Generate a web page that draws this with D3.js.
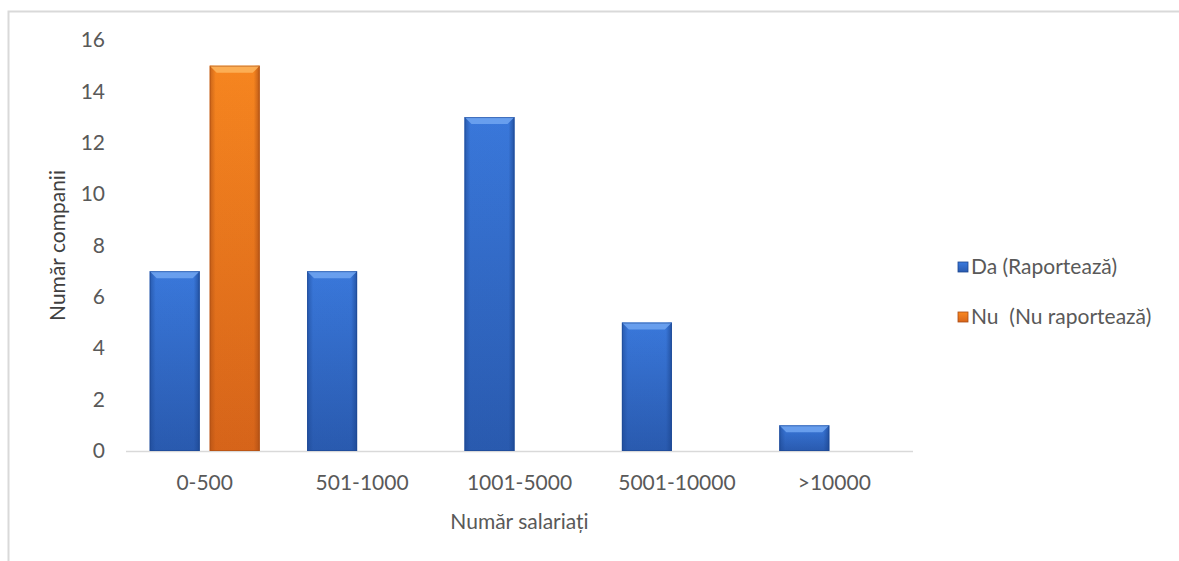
<!DOCTYPE html>
<html><head><meta charset="utf-8">
<script src="https://cdn.jsdelivr.net/npm/d3@7"></script>
<style>
html,body{margin:0;padding:0;background:#fff;}
svg{display:block;font-family:Lato,"Open Sans",sans-serif;}
</style></head>
<body>
<svg id="chart" width="1179" height="561"></svg>
<script>
const categories = ["0-500","501-1000","1001-5000","5001-10000",">10000"];
const seriesNames = ["Da (Raportează)","Nu  (Nu raportează)"];
const daValues = [7,7,13,5,1];
const nuValues = [15,0,0,0,0];
const yTicks = [0,2,4,6,8,10,12,14,16];
const yTitle = "Număr companii";
const xTitle = "Număr salariați";

const svg = d3.select("#chart");
const W = 1179, H = 561;
const plot = {left:126, right:913, top:40, bottom:451};
const FS = "21px";

// frame
svg.append("path").attr("d", `M8.5,${H} L8.5,11.5 L${W},11.5`)
  .attr("fill","none").attr("stroke","#d9d9d9").attr("stroke-width",2);

const x0 = d3.scaleBand().domain(categories).range([plot.left, plot.right]).paddingInner(0).paddingOuter(0);
const x1 = d3.scaleBand().domain(["da","nu"]).range([23.7, x0.bandwidth()-23.7]).paddingInner(1/6).paddingOuter(0);
const y = d3.scaleLinear().domain([0,16]).range([plot.bottom, plot.top]);

const defs = svg.append("defs");
const palettes = {
  da: {top:"#3b7ade", bot:"#2a5bb0", bevelTop:"#6ea3ef", edge:"#1c4690"},
  nu: {top:"#fa8820", bot:"#d8651a", bevelTop:"#fdb25a", edge:"#a94c14"}
};
Object.entries(palettes).forEach(([k,p])=>{
  const g = defs.append("linearGradient").attr("id","g-"+k).attr("x1",0).attr("y1",0).attr("x2",0).attr("y2",1);
  g.append("stop").attr("offset","0%").attr("stop-color",p.top);
  g.append("stop").attr("offset","100%").attr("stop-color",p.bot);
  const gs = defs.append("linearGradient").attr("id","gs-"+k).attr("x1",0).attr("y1",0).attr("x2",1).attr("y2",0);
  gs.append("stop").attr("offset","0%").attr("stop-color",p.edge).attr("stop-opacity",0.6);
  gs.append("stop").attr("offset","12%").attr("stop-color",p.edge).attr("stop-opacity",0.05);
  gs.append("stop").attr("offset","88%").attr("stop-color",p.edge).attr("stop-opacity",0.05);
  gs.append("stop").attr("offset","100%").attr("stop-color",p.edge).attr("stop-opacity",0.75);
});

// axis line
svg.append("line").attr("x1",plot.left).attr("x2",plot.right).attr("y1",y(0)+0.5).attr("y2",y(0)+0.5)
  .attr("stroke","#d9d9d9").attr("stroke-width",1.5);

// y axis
const yAxis = d3.axisLeft(y).tickValues(yTicks).tickSize(0).tickPadding(0);
const gy = svg.append("g").attr("transform","translate(105,0)").call(yAxis);
gy.select(".domain").remove();
gy.selectAll("text").attr("fill","#595959").style("font-size",FS).style("font-family","Lato,sans-serif");

// x axis
const xAxis = d3.axisBottom(x0).tickSize(0).tickPadding(0);
const gx = svg.append("g").attr("transform",`translate(0,${plot.bottom+24})`).call(xAxis);
gx.select(".domain").remove();
gx.selectAll("text").attr("fill","#595959").style("font-size",FS).style("font-family","Lato,sans-serif");

// bars
const rows = categories.map((c,i)=>({cat:c, vals:[{k:"da",v:daValues[i]},{k:"nu",v:nuValues[i]}]}));
const bev = 7;
const groups = svg.append("g").selectAll("g").data(rows).join("g")
  .attr("transform", d=>`translate(${x0(d.cat)},0)`);
const bars = groups.selectAll("g").data(d=>d.vals.filter(v=>v.v>0)).join("g");
bars.each(function(d){
  const g = d3.select(this);
  const p = palettes[d.k];
  const bx = x1(d.k), bw = x1.bandwidth(), by = y(d.v), bh = y(0)-y(d.v);
  g.append("rect").attr("x",bx).attr("y",by).attr("width",bw).attr("height",bh).attr("fill",`url(#g-${d.k})`);
  g.append("rect").attr("x",bx).attr("y",by).attr("width",bw).attr("height",bh).attr("fill",`url(#gs-${d.k})`);
  g.append("path").attr("d",`M${bx},${by} L${bx+bw},${by} L${bx+bw-bev},${by+bev} L${bx+bev},${by+bev} Z`)
    .attr("fill",p.bevelTop).attr("opacity",0.9);
  g.append("rect").attr("x",bx+0.5).attr("y",by+0.5).attr("width",bw-1).attr("height",bh-1)
    .attr("fill","none").attr("stroke",p.edge).attr("stroke-opacity",0.55).attr("stroke-width",1);
});

// axis titles
svg.append("text").attr("transform",`translate(65,${(plot.top+plot.bottom)/2}) rotate(-90)`)
  .attr("text-anchor","middle").attr("fill","#404040").style("font-size",FS).text(yTitle);
svg.append("text").attr("x",(plot.left+plot.right)/2).attr("y",529)
  .attr("text-anchor","middle").attr("fill","#595959").style("font-size",FS).text(xTitle);

// legend
const leg = svg.append("g").selectAll("g").data(seriesNames).join("g")
  .attr("transform",(d,i)=>`translate(958,${262+i*50})`);
leg.append("rect").attr("width",10).attr("height",10)
  .attr("fill",(d,i)=>i===0?"url(#g-da)":"url(#g-nu)")
  .attr("stroke",(d,i)=>i===0?palettes.da.edge:palettes.nu.edge).attr("stroke-width",0.8);
leg.append("text").attr("x",13).attr("y",12).attr("fill","#595959").style("font-size",FS).style("white-space","pre").text(d=>d);
</script>
</body></html>
